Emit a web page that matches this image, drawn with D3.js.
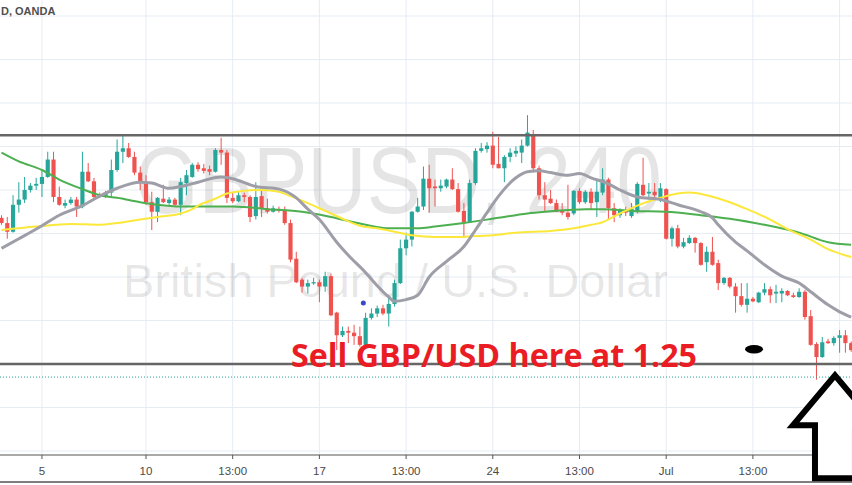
<!DOCTYPE html>
<html><head><meta charset="utf-8">
<script src="https://cdn.jsdelivr.net/npm/d3@7"></script>
<style>html,body{margin:0;padding:0;background:#fff;overflow:hidden}</style>
</head><body>
<svg id="c" width="852" height="485"></svg>
<script>
// ---- data (GBPUSD 4H, OANDA) ----
const opens = [1.2668,1.2662,1.2652,1.2683,1.2689,1.2700,1.2705,1.2707,1.2715,1.2735,
1.2692,1.2682,1.2685,1.2689,1.2681,1.2721,1.2710,1.2694,1.2692,1.2697,
1.2723,1.2744,1.2748,1.2738,1.2720,1.2709,1.2686,1.2675,1.2690,1.2685,
1.2689,1.2683,1.2708,1.2715,1.2729,1.2725,1.2724,1.2721,1.2746,1.2743,
1.2691,1.2687,1.2694,1.2692,1.2670,1.2693,1.2679,1.2675,1.2678,1.2677,
1.2662,1.2621,1.2597,1.2589,1.2593,1.2594,1.2589,1.2601,1.2559,1.2533,
1.2538,1.2536,1.2532,1.2522,1.2553,1.2558,1.2564,1.2558,1.2569,1.2593,
1.2633,1.2643,1.2675,1.2681,1.2713,1.2704,1.2702,1.2704,1.2712,1.2701,
1.2676,1.2663,1.2708,1.2745,1.2747,1.2751,1.2730,1.2725,1.2738,1.2742,
1.2743,1.2751,1.2764,1.2725,1.2694,1.2690,1.2685,1.2676,1.2674,1.2673,
1.2699,1.2686,1.2698,1.2686,1.2697,1.2712,1.2679,1.2671,1.2677,1.2670,
1.2675,1.2706,1.2696,1.2698,1.2690,1.2701,1.2644,1.2656,1.2635,1.2639,
1.2645,1.2639,1.2617,1.2629,1.2616,1.2593,1.2599,1.2589,1.2578,1.2568,
1.2575,1.2571,1.2582,1.2586,1.2581,1.2581,1.2584,1.2579,1.2577,1.2583,
1.2555,1.2523,1.2508,1.2526,1.2524,1.2530,1.2533,1.2524];
const highs = [1.2671,1.2669,1.2694,1.2709,1.2715,1.2708,1.2714,1.2723,1.2744,1.2744,
1.2704,1.2689,1.2692,1.2692,1.2744,1.2731,1.2714,1.2697,1.2699,1.2735,
1.2758,1.2763,1.2754,1.2744,1.2727,1.2717,1.2698,1.2692,1.2706,1.2692,
1.2691,1.2714,1.2723,1.2731,1.2732,1.2730,1.2728,1.2748,1.2760,1.2746,
1.2697,1.2698,1.2697,1.2694,1.2709,1.2700,1.2690,1.2682,1.2681,1.2681,
1.2666,1.2629,1.2599,1.2597,1.2599,1.2597,1.2606,1.2604,1.2560,1.2543,
1.2543,1.2545,1.2543,1.2559,1.2564,1.2567,1.2568,1.2579,1.2597,1.2643,
1.2651,1.2676,1.2691,1.2727,1.2729,1.2712,1.2712,1.2713,1.2725,1.2708,
1.2685,1.2712,1.2748,1.2754,1.2755,1.2767,1.2761,1.2740,1.2748,1.2750,
1.2758,1.2786,1.2769,1.2728,1.2709,1.2700,1.2689,1.2685,1.2706,1.2700,
1.2702,1.2700,1.2702,1.2712,1.2725,1.2714,1.2685,1.2679,1.2681,1.2685,
1.2709,1.2737,1.2708,1.2708,1.2708,1.2702,1.2658,1.2660,1.2645,1.2648,
1.2646,1.2640,1.2635,1.2646,1.2620,1.2600,1.2600,1.2593,1.2593,1.2593,
1.2577,1.2583,1.2593,1.2589,1.2591,1.2587,1.2585,1.2582,1.2587,1.2585,
1.2562,1.2525,1.2531,1.2529,1.2532,1.2539,1.2539,1.2526];
const lows = [1.2660,1.2644,1.2651,1.2674,1.2685,1.2697,1.2700,1.2692,1.2714,1.2686,
1.2682,1.2679,1.2683,1.2669,1.2679,1.2709,1.2690,1.2691,1.2691,1.2692,
1.2721,1.2731,1.2737,1.2717,1.2700,1.2683,1.2654,1.2663,1.2685,1.2683,
1.2681,1.2671,1.2694,1.2714,1.2721,1.2719,1.2717,1.2720,1.2729,1.2685,
1.2685,1.2686,1.2686,1.2663,1.2666,1.2669,1.2673,1.2674,1.2674,1.2660,
1.2617,1.2593,1.2582,1.2581,1.2591,1.2571,1.2583,1.2555,1.2516,1.2531,
1.2524,1.2522,1.2520,1.2520,1.2551,1.2554,1.2556,1.2543,1.2566,1.2592,
1.2625,1.2635,1.2674,1.2677,1.2674,1.2681,1.2698,1.2702,1.2700,1.2674,
1.2645,1.2662,1.2706,1.2743,1.2743,1.2725,1.2725,1.2709,1.2732,1.2738,
1.2731,1.2750,1.2720,1.2689,1.2675,1.2684,1.2675,1.2671,1.2666,1.2671,
1.2684,1.2684,1.2677,1.2669,1.2694,1.2666,1.2663,1.2668,1.2670,1.2668,
1.2673,1.2693,1.2689,1.2689,1.2686,1.2643,1.2635,1.2633,1.2633,1.2638,
1.2628,1.2613,1.2606,1.2613,1.2585,1.2591,1.2587,1.2559,1.2566,1.2559,
1.2571,1.2570,1.2579,1.2570,1.2570,1.2571,1.2578,1.2576,1.2576,1.2551,
1.2521,1.2482,1.2507,1.2523,1.2521,1.2513,1.2513,1.2514];
const closes = [1.2662,1.2652,1.2683,1.2689,1.2700,1.2705,1.2707,1.2715,1.2735,1.2692,
1.2683,1.2685,1.2689,1.2681,1.2721,1.2710,1.2692,1.2692,1.2697,1.2723,
1.2744,1.2748,1.2738,1.2720,1.2709,1.2686,1.2675,1.2691,1.2686,1.2689,
1.2683,1.2709,1.2717,1.2729,1.2724,1.2722,1.2721,1.2746,1.2743,1.2691,
1.2687,1.2694,1.2692,1.2669,1.2692,1.2679,1.2675,1.2679,1.2676,1.2662,
1.2620,1.2594,1.2589,1.2593,1.2594,1.2589,1.2601,1.2556,1.2533,1.2538,
1.2536,1.2532,1.2522,1.2553,1.2558,1.2564,1.2558,1.2569,1.2593,1.2633,
1.2643,1.2675,1.2681,1.2713,1.2702,1.2702,1.2705,1.2712,1.2701,1.2675,
1.2663,1.2708,1.2745,1.2748,1.2751,1.2729,1.2725,1.2738,1.2743,1.2745,
1.2751,1.2766,1.2725,1.2694,1.2689,1.2685,1.2675,1.2674,1.2669,1.2699,
1.2686,1.2698,1.2685,1.2698,1.2712,1.2679,1.2671,1.2677,1.2674,1.2678,
1.2707,1.2694,1.2698,1.2694,1.2702,1.2644,1.2656,1.2635,1.2640,1.2645,
1.2639,1.2614,1.2629,1.2614,1.2593,1.2599,1.2589,1.2578,1.2568,1.2575,
1.2572,1.2582,1.2586,1.2579,1.2583,1.2584,1.2579,1.2577,1.2583,1.2554,
1.2522,1.2508,1.2525,1.2524,1.2530,1.2533,1.2524,1.2516];

// moving averages (at sample bars)
const maFastIdx = [0,3,7,10,14,17,20,24,26,29,31,34,38,40,44,48,51,53,55,58,60,63,65,67,68,70,72,74,77,80,82,84,86,89,91,93,95,98,100,102,105,107,110,114,117,121,123,124,127,129,132,135,138,140,143,145,147];
const maFastVal = [1.2633,1.2644,1.2659,1.2671,1.2682,1.2693,1.2702,1.2709,1.2708,1.2702,1.2704,1.2709,1.2715,1.2713,1.2704,1.2701,1.2691,1.2678,1.2666,1.2640,1.2625,1.2605,1.2590,1.2577,1.2572,1.2574,1.2579,1.2600,1.2618,1.2635,1.2654,1.2674,1.2693,1.2714,1.2721,1.2722,1.2720,1.2717,1.2719,1.2714,1.2707,1.2700,1.2692,1.2689,1.2683,1.2675,1.2668,1.2660,1.2640,1.2630,1.2614,1.2601,1.2593,1.2583,1.2568,1.2560,1.2554];
const maMidIdx = [0,6,12,17,20,24,27,31,33,34,37,39,42,45,48,50,53,56,59,62,65,68,71,75,78,82,85,89,92,95,99,102,104,107,110,114,117,119,122,126,129,133,136,140,143,147];
const maMidVal = [1.2654,1.2658,1.2661,1.2660,1.2662,1.2666,1.2669,1.2673,1.2678,1.2682,1.2690,1.2696,1.2699,1.2700,1.2698,1.2693,1.2685,1.2676,1.2667,1.2659,1.2656,1.2652,1.2648,1.2646,1.2646,1.2647,1.2648,1.2651,1.2652,1.2653,1.2656,1.2660,1.2663,1.2673,1.2682,1.2691,1.2696,1.2697,1.2694,1.2686,1.2678,1.2666,1.2655,1.2643,1.2632,1.2623];
const maSlowIdx = [0,3,7,10,14,17,20,24,27,31,34,40,46,52,57,63,67,72,75,80,86,91,94,98,101,104,109,115,121,126,132,138,143,147];
const maSlowVal = [1.2743,1.2733,1.2723,1.2712,1.2701,1.2694,1.2691,1.2686,1.2683,1.2681,1.2681,1.2681,1.2678,1.2675,1.2669,1.2660,1.2656,1.2656,1.2658,1.2662,1.2668,1.2673,1.2675,1.2677,1.2678,1.2678,1.2676,1.2675,1.2671,1.2667,1.2660,1.2651,1.2640,1.2637];

// time axis
const tickIdx = [7,25,40,55,70,85,100,115,130,145];
const tickLabels = ["5","10","13:00","17","13:00","24","13:00","Jul","13:00","8"];

// levels and annotations
const resistance = 1.2763;
const support = 1.2500;
const lastPrice = 1.2485;
const ellipseAt = [130.2, 1.2517];
const markerAt = [62.6, 1.2570];
const arrowAt = [144.2, 1.2487];
const noteText = "Sell GBP/USD here at 1.25";
const headerText = "D, OANDA";

// ---- drawing ----
const W = 852, H = 485, paneBottom = 455;
const svg = d3.select("#c");
const x = d3.scaleLinear().domain([0, 147]).range([1.5, 851.16]);
const y = d3.scaleLinear().domain([1.23954, 1.29184]).range([paneBottom, 0]);
const step = x(1) - x(0);
const bw = step * 0.72;
const UP = "#26a69a", DN = "#ef5350";

svg.append("rect").attr("width", W).attr("height", H).attr("fill", "#fff");

// grid
const gridPrices = d3.range(0, 11).map(k => +(1.24 + k * 0.005).toFixed(3));
svg.append("g").selectAll("line").data(gridPrices).join("line")
  .attr("x1", 0).attr("x2", W).attr("y1", d => y(d)).attr("y2", d => y(d))
  .attr("stroke", "#e6ecf3").attr("stroke-width", 1);
svg.append("g").selectAll("line").data(tickIdx).join("line")
  .attr("x1", d => x(d)).attr("x2", d => x(d)).attr("y1", 0).attr("y2", paneBottom)
  .attr("stroke", "#e6ecf3").attr("stroke-width", 1);

// watermark
svg.append("text").attr("x", 135).attr("y", 213)
  .attr("font-family", "Liberation Sans, Arial, sans-serif").attr("font-size", 94)
  .attr("textLength", 527).attr("lengthAdjust", "spacingAndGlyphs")
  .attr("fill", "#000").attr("fill-opacity", 0.1).text("GBPUSD, 240");
svg.append("text").attr("x", 123).attr("y", 297)
  .attr("font-family", "Liberation Sans, Arial, sans-serif").attr("font-size", 47)
  .attr("textLength", 545).attr("lengthAdjust", "spacingAndGlyphs")
  .attr("fill", "#000").attr("fill-opacity", 0.1).text("British Pound / U.S. Dollar");

// header
svg.append("text").attr("x", 1).attr("y", 15)
  .attr("font-family", "Liberation Sans, Arial, sans-serif").attr("font-size", 11)
  .attr("font-weight", "bold").attr("fill", "#4f4f4f").text(headerText);

// candles
const candles = d3.range(opens.length).map(i => ({i, o: opens[i], h: highs[i], l: lows[i], c: closes[i]}));
const cg = svg.append("g");
cg.selectAll("line").data(candles).join("line")
  .attr("x1", d => x(d.i)).attr("x2", d => x(d.i))
  .attr("y1", d => y(d.h)).attr("y2", d => y(d.l))
  .attr("stroke", d => d.c >= d.o ? UP : DN).attr("stroke-width", 1);
cg.selectAll("rect").data(candles).join("rect")
  .attr("x", d => x(d.i) - bw / 2).attr("width", bw)
  .attr("y", d => y(Math.max(d.o, d.c)))
  .attr("height", d => Math.max(1.2, Math.abs(y(d.o) - y(d.c))))
  .attr("fill", d => d.c >= d.o ? UP : DN);

// moving averages
function maLine(idx, vals, color, w) {
  const pts = idx.map((d, k) => [d, vals[k]]);
  svg.append("path").datum(pts)
    .attr("d", d3.line().x(d => x(d[0])).y(d => y(d[1])).curve(d3.curveMonotoneX))
    .attr("fill", "none").attr("stroke", color).attr("stroke-width", w)
    .attr("stroke-linejoin", "round");
}
maLine(maSlowIdx, maSlowVal, "#4caf50", 2);
maLine(maMidIdx, maMidVal, "#fbe83a", 2);
maLine(maFastIdx, maFastVal, "#9e9ea8", 3);

// horizontal levels
[resistance, support].forEach(p => {
  svg.append("line").attr("x1", 0).attr("x2", W).attr("y1", y(p)).attr("y2", y(p))
    .attr("stroke", "#666").attr("stroke-width", 2.5);
});
svg.append("line").attr("x1", 0).attr("x2", W).attr("y1", y(lastPrice)).attr("y2", y(lastPrice))
  .attr("stroke", "#26a69a").attr("stroke-width", 1).attr("stroke-dasharray", "1,2");

// annotations
svg.append("text").attr("x", 291).attr("y", 367)
  .attr("font-family", "Open Sans, Liberation Sans, Arial, sans-serif").attr("font-size", 32)
  .attr("font-weight", "bold").attr("textLength", 406).attr("lengthAdjust", "spacingAndGlyphs")
  .attr("fill", "#ea1d25").text(noteText);
svg.append("ellipse").attr("cx", x(ellipseAt[0])).attr("cy", y(ellipseAt[1]))
  .attr("rx", 9).attr("ry", 4.2).attr("fill", "#000");
svg.append("circle").attr("cx", x(markerAt[0])).attr("cy", y(markerAt[1]))
  .attr("r", 2.5).attr("fill", "#3949c8");

// time axis
svg.append("line").attr("x1", 0).attr("x2", W).attr("y1", paneBottom).attr("y2", paneBottom)
  .attr("stroke", "#555").attr("stroke-width", 1.2);
svg.append("line").attr("x1", 0).attr("x2", W).attr("y1", 482).attr("y2", 482)
  .attr("stroke", "#555").attr("stroke-width", 1.5);
const ax = svg.append("g");
ax.selectAll("line").data(tickIdx).join("line")
  .attr("x1", d => x(d)).attr("x2", d => x(d)).attr("y1", paneBottom).attr("y2", paneBottom + 4)
  .attr("stroke", "#555");
ax.selectAll("text").data(tickIdx).join("text")
  .attr("x", d => x(d)).attr("y", 475).attr("text-anchor", "middle")
  .attr("font-family", "Liberation Sans, Arial, sans-serif").attr("font-size", 11.5)
  .attr("fill", "#4a4a4a").text((d, k) => tickLabels[k]);

// big up arrow
const ax0 = x(arrowAt[0]), ay0 = y(arrowAt[1]);
const arrowPts = [[0,0],[42,50],[20,50],[20,103],[-20,103],[-20,50],[-42,50]]
  .map(p => [ax0 + p[0], ay0 + p[1]]);
svg.append("polygon").attr("points", arrowPts.map(p => p.join(",")).join(" "))
  .attr("fill", "#fff").attr("stroke", "#000").attr("stroke-width", 6)
  .attr("stroke-linejoin", "miter");
</script>
</body></html>
